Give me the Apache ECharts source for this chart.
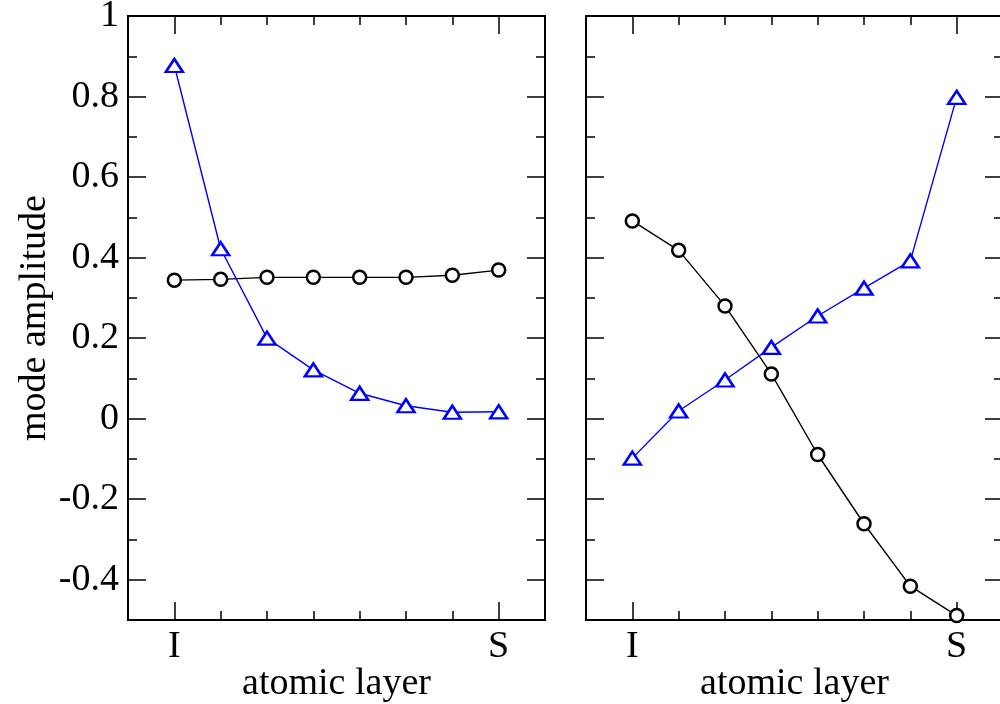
<!DOCTYPE html>
<html><head><meta charset="utf-8">
<script src="https://cdn.jsdelivr.net/npm/echarts@6/dist/echarts.min.js"></script>
<style>html,body{margin:0;padding:0;background:#fff}#c{width:1000px;height:704px}</style>
</head><body><div id="c"></div><script>
const layers = [1, 2, 3, 4, 5, 6, 7, 8];
const xTickValues = [1, 8];
const xTickLabels = ['I', 'S'];
const yTickLabels = [-0.4, -0.2, 0, 0.2, 0.4, 0.6, 0.8, 1];
const yMinorTicks = [-0.3, -0.1, 0.1, 0.3, 0.5, 0.7, 0.9];
const leftCircles = [0.344, 0.346, 0.351, 0.351, 0.351, 0.351, 0.356, 0.369];
const leftTriangles = [0.877, 0.422, 0.200, 0.121, 0.063, 0.032, 0.016, 0.017];
const rightCircles = [0.491, 0.418, 0.280, 0.111, -0.089, -0.261, -0.416, -0.489];
const rightTriangles = [-0.098, 0.019, 0.096, 0.177, 0.255, 0.324, 0.392, 0.798];

const FONT = '"Liberation Serif", "Times New Roman", serif';
const FS = 38;
const chart = echarts.init(document.getElementById('c'), null, {renderer: 'canvas'});

function tickStyle(len, vals) {
  return {show: true, inside: true, length: len, customValues: vals, lineStyle: {color: '#000', width: 1.5}};
}
function xAxes(gi) {
  const base = {type: 'value', gridIndex: gi, min: 0, max: 9, splitLine: {show: false},
    axisLine: {show: false, onZero: false}};
  return [
    Object.assign({}, base, {
      position: 'bottom', axisTick: tickStyle(18, xTickValues),
      axisLabel: {show: true, customValues: xTickValues, margin: 8,
        formatter: v => xTickLabels[xTickValues.indexOf(v)] || '',
        fontFamily: FONT, fontSize: FS, color: '#000'},
      name: 'atomic layer', nameLocation: 'middle', nameGap: 45, nameMoveOverlap: false,
      nameTextStyle: {fontFamily: FONT, fontSize: FS, color: '#000'}
    }),
    Object.assign({}, base, {position: 'bottom', axisTick: tickStyle(9, layers), axisLabel: {show: false}}),
    Object.assign({}, base, {position: 'top', axisTick: tickStyle(18, xTickValues), axisLabel: {show: false}}),
    Object.assign({}, base, {position: 'top', axisTick: tickStyle(9, layers), axisLabel: {show: false}})
  ];
}
function yAxes(gi, labels) {
  const base = {type: 'value', gridIndex: gi, min: -0.5, max: 1, splitLine: {show: false},
    axisLine: {show: false, onZero: false}};
  const major = Object.assign({}, base, {
    position: 'left', axisTick: tickStyle(18, yTickLabels),
    axisLabel: labels ? {show: true, customValues: yTickLabels, margin: 9,
      formatter: v => String(v), fontFamily: FONT, fontSize: FS, color: '#000'} : {show: false}
  });
  if (labels) {
    Object.assign(major, {name: 'mode amplitude', nameLocation: 'middle', nameRotate: 90, nameGap: 74,
      nameMoveOverlap: false,
      nameTextStyle: {fontFamily: FONT, fontSize: FS, color: '#000'}});
  }
  return [
    major,
    Object.assign({}, base, {position: 'left', axisTick: tickStyle(9, yMinorTicks), axisLabel: {show: false}}),
    Object.assign({}, base, {position: 'right', axisTick: tickStyle(18, yTickLabels), axisLabel: {show: false}}),
    Object.assign({}, base, {position: 'right', axisTick: tickStyle(9, yMinorTicks), axisLabel: {show: false}})
  ];
}
function pairs(vals) { return layers.map((x, i) => [x, vals[i]]); }
function circleSeries(vals, xi, yi) {
  return {type: 'line', xAxisIndex: xi, yAxisIndex: yi, data: pairs(vals), symbol: 'circle', symbolSize: 13,
    showAllSymbol: true, lineStyle: {color: '#000', width: 1.4},
    itemStyle: {color: '#fff', borderColor: '#000', borderWidth: 2.5}, animation: false, z: 3};
}
function triSeries(vals, xi, yi) {
  return {type: 'line', xAxisIndex: xi, yAxisIndex: yi, data: pairs(vals), symbol: 'triangle', symbolSize: [17, 13],
    showAllSymbol: true, lineStyle: {color: '#0000ff', width: 1.4},
    itemStyle: {color: '#fff', borderColor: '#0000ff', borderWidth: 2.5}, animation: false, z: 4};
}
const gridStyle = {show: true, borderColor: '#000', borderWidth: 2, backgroundColor: 'transparent',
  containLabel: false, outerBoundsMode: 'none'};
chart.setOption({
  animation: false,
  backgroundColor: '#fff',
  grid: [
    Object.assign({left: 128, top: 16, width: 417, height: 604}, gridStyle),
    Object.assign({left: 586, top: 16, width: 417, height: 604}, gridStyle)
  ],
  xAxis: xAxes(0).concat(xAxes(1)),
  yAxis: yAxes(0, true).concat(yAxes(1, false)),
  series: [
    circleSeries(leftCircles, 0, 0),
    triSeries(leftTriangles, 0, 0),
    circleSeries(rightCircles, 4, 4),
    triSeries(rightTriangles, 4, 4)
  ]
});
</script></body></html>
